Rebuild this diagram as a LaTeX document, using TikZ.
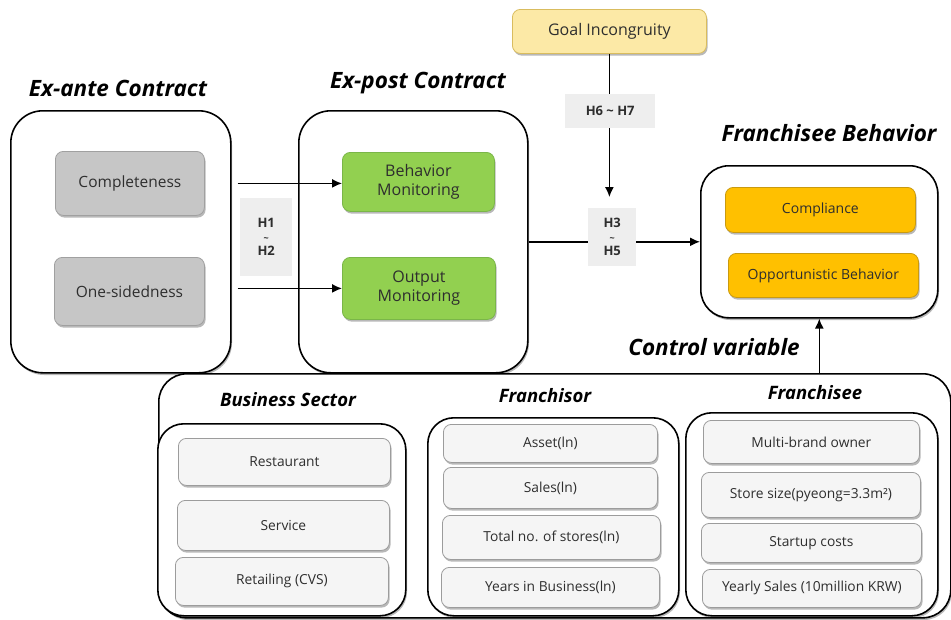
\documentclass[tikz,border=0pt]{standalone}
\usepackage{fontspec}
\setmainfont{Open Sans}
\usetikzlibrary{shadows,arrows.meta}

\definecolor{txt}{HTML}{2E2E2E}
\definecolor{grayfill}{HTML}{C6C6C6}
\definecolor{grayline}{HTML}{A0A0A0}
\definecolor{greenfill}{HTML}{92D050}
\definecolor{greenline}{HTML}{7AB648}
\definecolor{goalfill}{HTML}{FCE9A6}
\definecolor{goalline}{HTML}{D9BC5E}
\definecolor{amberfill}{HTML}{FFC000}
\definecolor{amberline}{HTML}{C99A10}
\definecolor{itemfill}{HTML}{F5F5F5}
\definecolor{itemline}{HTML}{9C9C9C}
\definecolor{hypfill}{HTML}{EEEEEE}

\tikzset{
  softshadow/.style={drop shadow={shadow xshift=1.2pt, shadow yshift=-2.2pt, opacity=0.28, fill=black}},
  group/.style={draw=black, line width=1.6pt, fill=white, rounded corners=32pt,
    anchor=north west, inner sep=0pt, softshadow},
  panel/.style={draw=black, line width=1.6pt, fill=white, rounded corners=26pt,
    anchor=north west, inner sep=0pt, softshadow},
  factor/.style={rounded corners=8pt, anchor=north west, line width=0.8pt,
    align=center, text=txt, font=\fontsize{15.5}{18}\selectfont, softshadow},
  grayvar/.style={factor, draw=grayline, fill=grayfill},
  greenvar/.style={factor, draw=greenline, fill=greenfill, font=\fontsize{16}{19}\selectfont},
  goalvar/.style={factor, draw=goalline, fill=goalfill, font=\fontsize{16}{19}\selectfont},
  ambervar/.style={factor, draw=amberline, fill=amberfill, font=\fontsize{14}{16}\selectfont},
  item/.style={factor, draw=itemline, fill=itemfill, font=\fontsize{13.8}{16}\selectfont},
  hyp/.style={fill=hypfill, anchor=north west, align=center, text=txt,
    font=\bfseries\fontsize{13}{14}\selectfont},
  heading/.style={font=\bfseries\itshape\fontsize{22.5}{26}\selectfont, text=black},
  subheading/.style={font=\bfseries\itshape\fontsize{18.5}{22}\selectfont, text=black},
  link/.style={line width=1.4pt, draw=black},
  arr/.style={link, -{Latex[length=10pt, width=9pt]}},
}
% small tilde between the two hypothesis numbers
\newcommand{\hsep}{{\fontsize{9}{9}\selectfont\textasciitilde}}

\begin{document}
\begin{tikzpicture}[x=1pt, y=-1pt]
\useasboundingbox (0,0) rectangle (951,619);

% ---------- headings ----------
\node[heading] (t-exante) at (118,88) {Ex-ante Contract};
\node[heading] (t-expost) at (418,83) {Ex-post Contract};
\node[heading] (t-fb) at (829,133) {Franchisee Behavior};

% ---------- contract groups ----------
\node[group, minimum width=220pt, minimum height=262pt] (exante) at (10,110) {};
\node[group, minimum width=229pt, minimum height=262pt] (expost) at (298,110) {};

\node[grayvar, minimum width=149pt, minimum height=64pt] (comp) at (55,151) {Completeness};
\node[grayvar, minimum width=150pt, minimum height=68pt] (ones) at (54,257) {One-sidedness};

\node[greenvar, minimum width=152pt, minimum height=59pt] (bm) at (342,152) {Behavior\\Monitoring};
\node[greenvar, minimum width=153pt, minimum height=62pt] (om) at (342,257) {Output\\Monitoring};

% ---------- moderator ----------
\node[goalvar, minimum width=194pt, minimum height=44pt] (goal) at (512,9) {Goal Incongruity};

% ---------- outcome ----------
\node[group, minimum width=237pt, minimum height=152pt, rounded corners=28pt] (fb) at (700,165) {};
\node[ambervar, minimum width=190pt, minimum height=45pt] (compl) at (725,187) {Compliance};
\node[ambervar, minimum width=190pt, minimum height=44pt] (opp) at (728,253) {Opportunistic Behavior};

% ---------- hypothesis labels ----------
\node[hyp, minimum width=52pt, minimum height=78pt] (h12) at (240,198) {H1\\\hsep\\H2};
\node[hyp, minimum width=90pt, minimum height=34pt] (h67) at (565,94) {H6 \textasciitilde{} H7};
\node[hyp, minimum width=48pt, minimum height=58pt] (h35) at (588,208) {H3\\\hsep\\H5};

% ---------- connectors ----------
\draw[arr] ([xshift=6pt]exante.east |- comp.east) -- (bm.west |- comp.east);
\draw[arr] ([xshift=6pt]exante.east |- om.west) -- (om.west);
\draw[link] (expost.east) -- (h35.west |- expost.east);
\draw[arr] (h35.east |- fb.west) -- (fb.west);
\draw[link] (goal.south) -- (goal.south |- h67.north);
\draw[arr, shorten >=11pt] (goal.south |- h67.south) -- (goal.south |- h35.north);

% ---------- control variables ----------
\node[heading] (t-ctrl) at (714,347) {Control variable};
\node[panel, minimum width=792pt, minimum height=244pt, rounded corners=28pt] (ctrl) at (158,373) {};
\draw[arr] (ctrl.north -| fb.south) -- (fb.south);

\node[subheading] (t-bs) at (288,400) {Business Sector};
\node[subheading] (t-fr) at (545,396) {Franchisor};
\node[subheading] (t-fe) at (815,393) {Franchisee};

\node[panel, minimum width=248pt, minimum height=192pt] (bs) at (157,423) {};
\node[panel, minimum width=251pt, minimum height=198pt] (fr) at (427,417) {};
\node[panel, minimum width=252pt, minimum height=203pt] (fe) at (685,412) {};

\node[item, minimum width=212pt, minimum height=47pt] (bs1) at (178,438) {Restaurant};
\node[item, minimum width=212pt, minimum height=50pt] (bs2) at (177,500) {Service};
\node[item, minimum width=213pt, minimum height=48pt] (bs3) at (175,557) {Retailing (CVS)};

\node[item, minimum width=214pt, minimum height=38pt] (fr1) at (443,424) {Asset(ln)};
\node[item, minimum width=214pt, minimum height=41pt] (fr2) at (443,467) {Sales(ln)};
\node[item, minimum width=218pt, minimum height=44pt] (fr3) at (442,515) {Total no. of stores(ln)};
\node[item, minimum width=218pt, minimum height=40pt] (fr4) at (441,567) {Years in Business(ln)};

\node[item, minimum width=216pt, minimum height=43pt] (fe1) at (703,420) {Multi-brand owner};
\node[item, minimum width=219pt, minimum height=45pt] (fe2) at (701,472) {Store size(pyeong=3.3m²)};
\node[item, minimum width=220pt, minimum height=39pt] (fe3) at (701,523) {Startup costs};
\node[item, minimum width=219pt, minimum height=38pt] (fe4) at (702,569) {Yearly Sales (10million KRW)};
\end{tikzpicture}
\end{document}
